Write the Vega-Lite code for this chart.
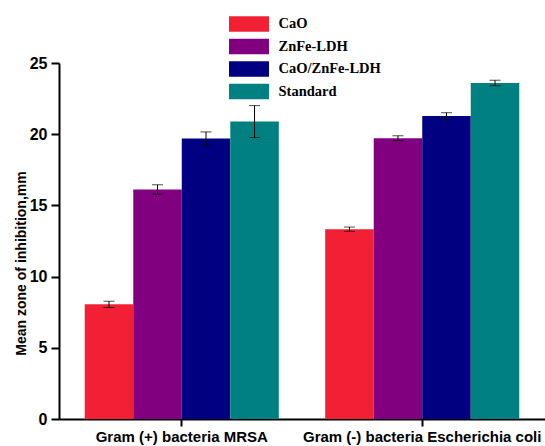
{
  "$schema": "https://vega.github.io/schema/vega-lite/v6.json",
  "width": 486,
  "height": 356,
  "autosize": {"type": "none"},
  "padding": {"left": 59, "top": 63, "right": 0, "bottom": 27},
  "background": "white",
  "config": {
    "view": {"stroke": null},
    "axis": {
      "grid": false,
      "domainColor": "black",
      "tickColor": "black",
      "labelColor": "black",
      "titleColor": "black",
      "domainWidth": 2,
      "tickWidth": 2,
      "labelFont": "Liberation Sans",
      "labelFontWeight": "bold",
      "titleFont": "Liberation Sans",
      "titleFontWeight": "bold"
    }
  },
  "data": {
    "values": [
      {"group": "Gram (+) bacteria MRSA", "material": "CaO", "value": 8.05, "lo": 7.83, "hi": 8.27},
      {"group": "Gram (+) bacteria MRSA", "material": "ZnFe-LDH", "value": 16.12, "lo": 15.79, "hi": 16.45},
      {"group": "Gram (+) bacteria MRSA", "material": "CaO/ZnFe-LDH", "value": 19.7, "lo": 19.24, "hi": 20.16},
      {"group": "Gram (+) bacteria MRSA", "material": "Standard", "value": 20.89, "lo": 19.77, "hi": 22.01},
      {"group": "Gram (-) bacteria Escherichia coli", "material": "CaO", "value": 13.33, "lo": 13.18, "hi": 13.48},
      {"group": "Gram (-) bacteria Escherichia coli", "material": "ZnFe-LDH", "value": 19.72, "lo": 19.55, "hi": 19.89},
      {"group": "Gram (-) bacteria Escherichia coli", "material": "CaO/ZnFe-LDH", "value": 21.28, "lo": 21.05, "hi": 21.51},
      {"group": "Gram (-) bacteria Escherichia coli", "material": "Standard", "value": 23.6, "lo": 23.41, "hi": 23.79}
    ]
  },
  "encoding": {
    "x": {
      "field": "group",
      "type": "nominal",
      "sort": ["Gram (+) bacteria MRSA", "Gram (-) bacteria Escherichia coli"],
      "scale": {"paddingInner": 0.193, "paddingOuter": 0.107},
      "axis": {"title": null, "labelAngle": 0, "labelFontSize": 15, "tickSize": 7, "labelPadding": 3, "labelLimit": 0}
    },
    "xOffset": {
      "field": "material",
      "type": "nominal",
      "sort": ["CaO", "ZnFe-LDH", "CaO/ZnFe-LDH", "Standard"],
      "scale": {"paddingInner": 0, "paddingOuter": 0}
    }
  },
  "layer": [
    {
      "mark": {"type": "bar"},
      "encoding": {
        "y": {
          "field": "value",
          "type": "quantitative",
          "title": "Mean zone of inhibition,mm",
          "scale": {"domain": [0, 25], "nice": false},
          "axis": {
            "values": [0, 5, 10, 15, 20, 25],
            "labelFontSize": 16,
            "tickSize": 8,
            "labelPadding": 4,
            "titleFontSize": 14,
            "titlePadding": 1,
            "titleY": 200
          }
        },
        "color": {
          "field": "material",
          "type": "nominal",
          "sort": ["CaO", "ZnFe-LDH", "CaO/ZnFe-LDH", "Standard"],
          "scale": {
            "domain": ["CaO", "ZnFe-LDH", "CaO/ZnFe-LDH", "Standard"],
            "range": ["#F22034", "#800080", "#000080", "#008080"]
          },
          "legend": {
            "orient": "none",
            "legendX": 182,
            "legendY": -47,
            "title": null,
            "padding": 0,
            "symbolType": "M-2.58,-1H2.58V1H-2.58Z",
            "symbolSize": 240,
            "symbolStrokeWidth": 0,
            "labelFont": "Liberation Serif",
            "labelFontWeight": "bold",
            "labelFontSize": 14.5,
            "labelColor": "black",
            "labelOffset": 21.5,
            "rowPadding": 6.5
          }
        }
      }
    },
    {
      "mark": {"type": "rule", "color": "black", "strokeWidth": 1},
      "encoding": {
        "y": {"field": "lo", "type": "quantitative", "title": "Mean zone of inhibition,mm"},
        "y2": {"field": "hi"}
      }
    },
    {
      "mark": {"type": "tick", "color": "black", "size": 11, "thickness": 1},
      "encoding": {
        "y": {"field": "lo", "type": "quantitative", "title": "Mean zone of inhibition,mm"}
      }
    },
    {
      "mark": {"type": "tick", "color": "black", "size": 11, "thickness": 1},
      "encoding": {
        "y": {"field": "hi", "type": "quantitative", "title": "Mean zone of inhibition,mm"}
      }
    }
  ]
}
